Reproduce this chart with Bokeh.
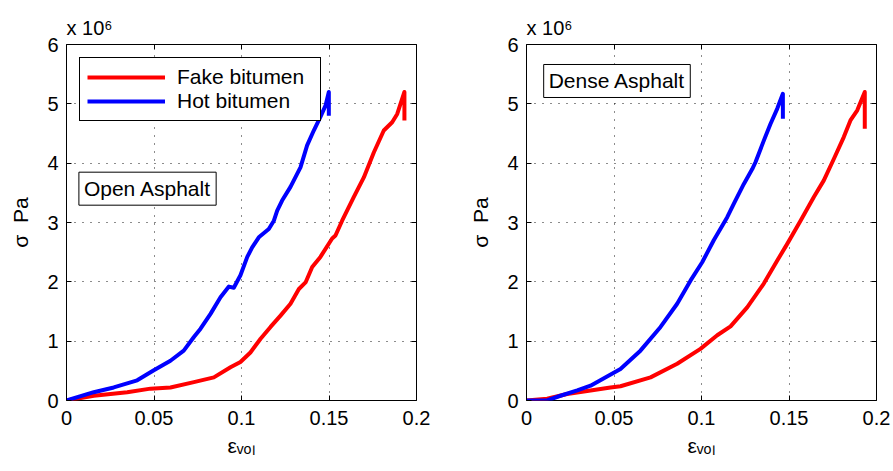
from bokeh.plotting import figure
from bokeh.layouts import row
from bokeh.models import Label, LinearAxis, FixedTicker, Range1d, Legend, LegendItem
from bokeh.embed import file_html
from bokeh.resources import INLINE

# ---------------- data (sigma in units of 10^6 Pa) ----------------
x_ticks = [0, 0.05, 0.1, 0.15, 0.2]
x_tick_labels = ["0", "0.05", "0.1", "0.15", "0.2"]
y_ticks = [0, 1, 2, 3, 4, 5, 6]
y_tick_labels = ["0", "1", "2", "3", "4", "5", "6"]

# Open Asphalt
open_fake_eps = [0, 0.0156, 0.0347, 0.048, 0.0594, 0.0728, 0.0842, 0.0937, 0.0994, 0.1051,
                 0.1109, 0.1166, 0.1223, 0.128, 0.1328, 0.1366, 0.1404, 0.1451, 0.1518, 0.1537,
                 0.1575, 0.1642, 0.1699, 0.1756, 0.1813, 0.1861, 0.189, 0.1931, 0.1931]
open_fake_sig = [0, 0.08, 0.14, 0.20, 0.22, 0.31, 0.39, 0.56, 0.65, 0.81,
                 1.04, 1.24, 1.43, 1.63, 1.88, 1.99, 2.25, 2.42, 2.73, 2.78,
                 3.03, 3.43, 3.76, 4.18, 4.55, 4.69, 4.83, 5.20, 4.72]

open_hot_eps = [0, 0.0156, 0.027, 0.0404, 0.0499, 0.0594, 0.067, 0.0728, 0.0766, 0.0823,
                0.088, 0.0928, 0.0956, 0.0994, 0.1033, 0.1061, 0.1099, 0.1156, 0.1185, 0.1204,
                0.1232, 0.128, 0.1337, 0.1375, 0.1413, 0.1451, 0.148, 0.1499, 0.1499]
open_hot_sig = [0, 0.14, 0.22, 0.34, 0.51, 0.67, 0.84, 1.07, 1.21, 1.46,
                1.74, 1.92, 1.90, 2.11, 2.42, 2.58, 2.75, 2.89, 3.03, 3.20,
                3.37, 3.60, 3.93, 4.30, 4.55, 4.78, 4.97, 5.20, 4.80]

# Dense Asphalt
dense_fake_eps = [0, 0.0118, 0.0232, 0.0366, 0.048, 0.0537, 0.0709, 0.0861, 0.0994, 0.109,
                  0.1166, 0.1261, 0.1356, 0.1433, 0.149, 0.1566, 0.1642, 0.1699, 0.1756, 0.1813,
                  0.1851, 0.189, 0.1933, 0.1933]
dense_fake_sig = [0, 0.03, 0.11, 0.17, 0.22, 0.24, 0.39, 0.62, 0.87, 1.10,
                  1.25, 1.57, 1.97, 2.36, 2.64, 3.03, 3.43, 3.71, 4.07, 4.44,
                  4.72, 4.89, 5.20, 4.58]

dense_hot_eps = [0, 0.0118, 0.0194, 0.029, 0.0366, 0.044, 0.0537, 0.0651, 0.0766, 0.0861,
                 0.0937, 0.1004, 0.107, 0.1147, 0.1185, 0.1242, 0.129, 0.1309, 0.1356, 0.1394,
                 0.1433, 0.1465, 0.1465]
dense_hot_sig = [0, 0, 0.08, 0.17, 0.25, 0.37, 0.53, 0.84, 1.24, 1.63,
                 2.02, 2.33, 2.70, 3.09, 3.32, 3.65, 3.90, 4.02, 4.38, 4.66,
                 4.92, 5.17, 4.75]

FONT = "Liberation Sans"
RED = "#ff0000"
BLUE = "#0000ff"


def make_fig(width, border_left, border_right):
    p = figure(width=width, height=471, output_backend="svg", toolbar_location=None,
               x_range=Range1d(0, 0.2), y_range=Range1d(0, 6),
               min_border_left=border_left, min_border_right=border_right,
               min_border_top=44, min_border_bottom=71, title="x 10⁶")
    p.background_fill_color = "white"
    p.border_fill_color = "white"
    p.outline_line_color = "black"
    p.outline_line_width = 1
    p.outline_line_alpha = 1

    p.title.text_font = FONT
    p.title.text_font_size = "20px"
    p.title.text_font_style = "normal"
    p.title.text_color = "black"
    p.title.align = "left"
    p.title.offset = 0
    p.title.standoff = 10
    p.title.vertical_align = "middle"

    for ax, ticks, labels in ((p.xaxis[0], x_ticks, x_tick_labels), (p.yaxis[0], y_ticks, y_tick_labels)):
        ax.ticker = FixedTicker(ticks=ticks)
        ax.major_label_overrides = {t: l for t, l in zip(ticks, labels)}
        ax.major_label_text_font = FONT
        ax.major_label_text_font_size = "20px"
        ax.major_label_text_color = "black"
        ax.axis_line_color = None
        ax.major_tick_in = 5
        ax.major_tick_out = 0
        ax.major_tick_line_color = "black"
        ax.minor_tick_line_color = None
        ax.axis_label_text_font = FONT
        ax.axis_label_text_font_style = "normal"
        ax.axis_label_text_color = "black"
        ax.axis_label_text_font_size = "21px"
    p.xaxis.major_label_standoff = 10
    p.yaxis.major_label_standoff = 8

    p.yaxis.axis_label = "σ\u00a0\u00a0Pa"
    p.yaxis.axis_label_standoff = 12
    p.xaxis.axis_label = "εᵥₒₗ"
    p.xaxis.axis_label_standoff = 6

    # ticks on top and right (MATLAB box style), no labels
    for loc, ticks in (("right", y_ticks), ("above", x_ticks)):
        ax = LinearAxis(ticker=FixedTicker(ticks=ticks), major_label_text_color=None,
                        axis_line_color=None, major_tick_in=5, major_tick_out=0,
                        major_tick_line_color="black",
                        minor_tick_line_color=None, major_label_standoff=0)
        p.add_layout(ax, loc)

    for g in (p.xgrid[0], p.ygrid[0]):
        g.grid_line_color = "black"
        g.grid_line_dash = "1 7"
        g.grid_line_width = 1
        g.grid_line_alpha = 0.9
    p.xgrid.ticker = FixedTicker(ticks=x_ticks)
    p.ygrid.ticker = FixedTicker(ticks=y_ticks)
    return p


p1 = make_fig(446, 66, 30)
r_fake1 = p1.line(open_fake_eps, open_fake_sig, line_color=RED, line_width=4, line_join="round")
r_hot1 = p1.line(open_hot_eps, open_hot_sig, line_color=BLUE, line_width=4, line_join="round")
legend = Legend(items=[LegendItem(label="Fake bitumen", renderers=[r_fake1]),
                       LegendItem(label="Hot bitumen", renderers=[r_hot1])],
                location=(13, 279), margin=0, padding=7, spacing=0,
                glyph_width=78, glyph_height=20, label_standoff=12, label_width=136,
                label_text_font=FONT, label_text_font_size="21px", label_text_color="black",
                border_line_color="black", border_line_width=1, border_line_alpha=1,
                background_fill_color="white", background_fill_alpha=1)
p1.add_layout(legend)
p1.add_layout(Label(x=0.0463, y=3.57, text="Open Asphalt", text_font=FONT, text_font_size="21px",
                    text_align="center", text_baseline="middle", text_color="black",
                    border_line_color="black", border_line_width=1,
                    background_fill_color="white", padding=5))

p2 = make_fig(447, 80, 17)
p2.line(dense_fake_eps, dense_fake_sig, line_color=RED, line_width=4, line_join="round")
p2.line(dense_hot_eps, dense_hot_sig, line_color=BLUE, line_width=4, line_join="round")
p2.add_layout(Label(x=0.0517, y=5.385, text="Dense Asphalt", text_font=FONT, text_font_size="21px",
                    text_align="center", text_baseline="middle", text_color="black",
                    border_line_color="black", border_line_width=1,
                    background_fill_color="white", padding=5))

layout = row(p1, p2)
open("out.html", "w").write(file_html(layout, INLINE))
